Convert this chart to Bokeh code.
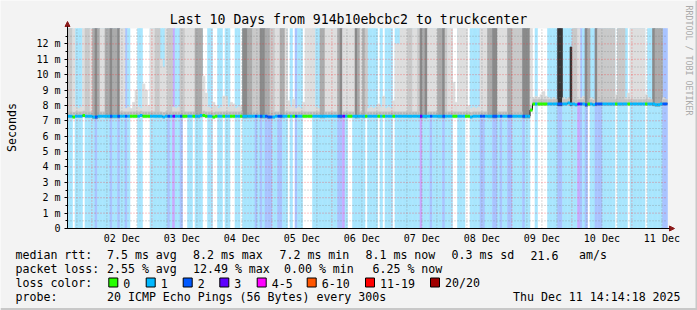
import math
from datetime import datetime, timedelta
from bokeh.plotting import figure
from bokeh.core.properties import value
from bokeh.models import (FixedTicker, DatetimeTickFormatter, CustomJSTickFormatter,
                          Range1d, Arrow, NormalHead)
from bokeh.embed import file_html
from bokeh.resources import INLINE

# ---------------- data ----------------
END_TIME = datetime(2025, 12, 11, 14, 14, 18)
SPAN_DAYS = 10
Y_MAX = 13.0   # ms

# loss category per hourly bin (0 = none, 1 = 1/20, 2 = 2/20, 3 = 3/20)
loss_codes = ("1101110111" "1211111211" "2112100011" "0001111111" "2131120011"
              "0111001100" "1101100110" "1111121212" "2211221101" "0211000011"
              "1111111122" "3100111110" "1111010111" "0111111111" "1311121111"
              "2111001110" "0111122111" "2212112211" "1121100100" "0011112211"
              "1111321201" "1222111110" "1111011111" "1011111122")

# smoke darkness at the top of each bin (0 = low smoke only, 1 light .. 5 very dark)
smoke_shade = ("2210001221" "3431133433" "4110000100" "1101122111" "2200022111"
               "1333110000" "0011000000" "4433222443" "3221133100" "0000011110"
               "0331111134" "1111143132" "0000001000" "0111112211" "2434111133"
               "4211101111" "0000011133" "4411113322" "2244410000" "0000005500"
               "0522100430" "0422222220" "2220011111" "1000433300")

# top of the smoke per bin (ms)
smoke_top = [
    13, 13, 13, 7.9, 7.8, 7.9, 13, 13, 13, 13,
    13, 13, 13, 13, 13, 13, 13, 13, 13, 13,
    13, 13, 13, 7.8, 7.9, 7.8, 8.2, 9.0, 7.9, 7.8,
    9.4, 9.0, 8.0, 13, 13, 13, 13, 11.0, 10.5, 13,
    13, 13, 7.9, 7.8, 7.9, 13, 13, 13, 13, 13,
    13, 13, 13, 13, 9.9, 8.8, 7.9, 7.8, 8.2, 8.0,
    7.8, 7.9, 8.6, 8.6, 7.9, 8.2, 8.1, 7.8, 7.9, 8.0,
    13, 13, 13, 13, 13, 13, 13, 13, 13, 13,
    13, 13, 13, 13, 13, 13, 13, 13, 8.3, 7.9,
    8.4, 7.8, 7.9, 7.8, 8.2, 13, 13, 13, 13, 7.9,
    7.8, 13, 13, 13, 13, 13, 13, 13, 13, 13,
    13, 13, 13, 13, 13, 13, 13, 13, 13, 13,
    7.8, 7.9, 7.8, 7.9, 8.1, 7.9, 8.6, 7.8, 7.9, 7.8,
    8.3, 12.0, 12.0, 13, 13, 13, 13, 13, 13, 13,
    13, 13, 13, 13, 13, 13, 13, 13, 13, 13,
    13, 13, 13, 13, 9.5, 8.2, 13, 13, 13, 13,
    8.0, 7.8, 7.9, 7.8, 7.9, 13, 13, 13, 13, 13,
    13, 13, 13, 13, 13, 13, 13, 13, 13, 13,
    13, 13, 13, 13, 13, 13, 8.5, 8.6, 8.5, 8.7,
    8.9, 8.6, 8.5, 8.4, 8.5, 8.4, 13, 13, 8.5, 8.4,
    8.5, 11.8, 13, 13, 13, 8.5, 8.6, 13, 13, 8.5,
    8.4, 13, 13, 13, 13, 13, 13, 13, 13, 8.7,
    13, 13, 13, 8.5, 8.8, 13, 13, 13, 13, 13,
    13, 8.7, 8.5, 8.4, 13, 13, 13, 13, 8.5, 8.4,
]

# median rtt per bin (ms)
median_ms = [
    7.30, 7.30, 7.25, 7.30, 7.30, 7.30, 7.35, 7.30, 7.30, 7.30,
    7.25, 7.25, 7.30, 7.30, 7.30, 7.30, 7.30, 7.30, 7.30, 7.30,
    7.30, 7.30, 7.30, 7.30, 7.30, 7.30, 7.30, 7.30, 7.30, 7.35,
    7.30, 7.30, 7.30, 7.30, 7.30, 7.30, 7.30, 7.30, 7.25, 7.30,
    7.30, 7.30, 7.30, 7.30, 7.30, 7.30, 7.30, 7.30, 7.30, 7.30,
    7.30, 7.30, 7.30, 7.35, 7.35, 7.30, 7.30, 7.30, 7.25, 7.30,
    7.30, 7.30, 7.30, 7.30, 7.30, 7.30, 7.30, 7.30, 7.30, 7.30,
    7.30, 7.30, 7.30, 7.30, 7.30, 7.30, 7.30, 7.30, 7.30, 7.30,
    7.25, 7.25, 7.25, 7.30, 7.30, 7.30, 7.30, 7.30, 7.30, 7.30,
    7.30, 7.30, 7.30, 7.30, 7.30, 7.30, 7.30, 7.30, 7.30, 7.30,
    7.30, 7.30, 7.30, 7.30, 7.30, 7.30, 7.30, 7.30, 7.30, 7.30,
    7.30, 7.30, 7.30, 7.30, 7.30, 7.30, 7.30, 7.30, 7.30, 7.30,
    7.30, 7.30, 7.30, 7.30, 7.30, 7.30, 7.30, 7.30, 7.30, 7.30,
    7.30, 7.30, 7.30, 7.30, 7.30, 7.30, 7.30, 7.30, 7.30, 7.30,
    7.30, 7.30, 7.30, 7.30, 7.30, 7.30, 7.30, 7.30, 7.30, 7.30,
    7.30, 7.30, 7.30, 7.30, 7.30, 7.30, 7.30, 7.30, 7.30, 7.30,
    7.30, 7.25, 7.30, 7.30, 7.30, 7.30, 7.30, 7.30, 7.30, 7.30,
    7.30, 7.30, 7.30, 7.30, 7.30, 7.30, 7.30, 7.30, 7.30, 7.30,
    7.30, 7.30, 7.30, 7.30, 7.30, 7.70, 8.10, 8.10, 8.10, 8.10,
    8.10, 8.10, 8.10, 8.10, 8.10, 8.10, 8.10, 8.10, 8.10, 8.10,
    8.15, 8.10, 8.10, 8.05, 8.10, 8.10, 8.10, 8.05, 8.10, 8.10,
    8.05, 8.10, 8.10, 8.10, 8.10, 8.10, 8.10, 8.10, 8.10, 8.10,
    8.10, 8.10, 8.10, 8.10, 8.10, 8.10, 8.10, 8.10, 8.10, 8.10,
    8.10, 8.10, 8.10, 8.10, 8.10, 8.05, 8.05, 8.10, 8.10, 8.10,
]

stats_rtt = ["median rtt:", "7.5 ms avg", "8.2 ms max", "7.2 ms min", "8.1 ms now", "0.3 ms sd", "21.6", "am/s"]
stats_loss = ["packet loss:", "2.55 % avg", "12.49 % max", "0.00 % min", "6.25 % now"]
loss_legend_names = ["0", "1", "2", "3", "4-5", "6-10", "11-19", "20/20"]
loss_legend_colors = ["#26ff00", "#00b8ff", "#0059ff", "#5e00ff", "#ff00ff", "#ff5500", "#ff0000", "#a10000"]
probe_label = "probe:"
probe_text = "20 ICMP Echo Pings (56 Bytes) every 300s"
stamp_text = "Thu Dec 11 14:14:18 2025"
title_text = "Last 10 Days from 914b10ebcbc2 to truckcenter"
credit_text = "RRDTOOL / TOBI OETIKER"
y_title = "Seconds"

# ---------------- styling / geometry ----------------
LINE_COLORS = {0: "#26ff00", 1: "#00b8ff", 2: "#0059ff", 3: "#5e00ff"}
BG_COLORS = {1: "#a9e6fe", 2: "#a9c4ff", 3: "#c9a9fe"}
SHADE_COLORS = ["#dcdcdc", "#dedede", "#c9c9c9", "#ababab", "#8a8a8a", "#363636"]
MONO = "DejaVu Sans Mono"
CANVAS = "#f3f3f3"
W, H = 697, 310
GL, GW, GT, GH = 67, 600, 28, 200      # graph area in canvas pixels


def ms_of(dt):
    return (dt - datetime(1970, 1, 1)).total_seconds() * 1000.0


start_dt = END_TIME - timedelta(days=SPAN_DAYS)
start_ms, end_ms = ms_of(start_dt), ms_of(END_TIME)
HOUR_MS = 3600 * 1000.0
KX = (end_ms - start_ms) / GW       # data per pixel
KY = Y_MAX / GH
x_lo = start_ms - GL * KX
y_hi = Y_MAX + GT * KY


def dx(px):
    return x_lo + px * KX


def dy(py):
    return y_hi - py * KY


n = len(loss_codes)
left = [start_ms + i * HOUR_MS for i in range(n)]
right = [start_ms + (i + 1) * HOUR_MS for i in range(n)]
codes = [int(c) for c in loss_codes]
shades = [int(c) for c in smoke_shade]

p = figure(width=W, height=H, x_axis_type="datetime",
           x_range=Range1d(x_lo, x_lo + W * KX), y_range=Range1d(y_hi - H * KY, y_hi),
           min_border=0, output_backend="svg", toolbar_location=None,
           background_fill_color=CANVAS, border_fill_color=CANVAS)
p.outline_line_color = None
p.title.visible = False
p.xgrid.visible = False
p.ygrid.visible = False

# graph canvas
p.quad(left=[start_ms], right=[end_ms], bottom=[0], top=[Y_MAX], fill_color="white", line_color=None)

# loss background bars
bg = [i for i in range(n) if codes[i] > 0]
p.quad(left=[left[i] for i in bg], right=[right[i] for i in bg],
       bottom=[0] * len(bg), top=[Y_MAX] * len(bg),
       fill_color=[BG_COLORS[codes[i]] for i in bg],
       line_color=[BG_COLORS[codes[i]] for i in bg], line_width=0.6)

# smoke
p.quad(left=left, right=right,
       bottom=[m - 0.12 for m in median_ms], top=smoke_top,
       fill_color=[SHADE_COLORS[s] for s in shades],
       line_color=[SHADE_COLORS[s] for s in shades], line_width=0.6)
inner = [i for i in range(n) if shades[i] <= 2]
p.quad(left=[left[i] for i in inner], right=[right[i] for i in inner],
       bottom=[median_ms[i] for i in inner], top=[median_ms[i] + 0.3 for i in inner],
       fill_color="#c2c2c2", line_color=None)

# grid (drawn over the smoke, as rrdtool does)
mid_ticks, six_ticks = [], []
t = datetime(start_dt.year, start_dt.month, start_dt.day) + timedelta(days=1)
while t < END_TIME:
    mid_ticks.append(ms_of(t))
    t += timedelta(days=1)
t = datetime(start_dt.year, start_dt.month, start_dt.day, 18)
while t < END_TIME:
    if t.hour != 0:
        six_ticks.append(ms_of(t))
    t += timedelta(hours=6)
noon_ticks = [m + 12 * HOUR_MS for m in mid_ticks]
y_major = list(range(1, 13))
y_minor = [k + 0.5 for k in range(13)]

p.segment(x0=[start_ms] * len(y_minor), x1=[end_ms] * len(y_minor), y0=y_minor, y1=y_minor,
          line_color="#808080", line_alpha=0.6, line_dash="1 2", line_width=1)
p.segment(x0=six_ticks, x1=six_ticks, y0=[0] * len(six_ticks), y1=[Y_MAX] * len(six_ticks),
          line_color="#808080", line_alpha=0.6, line_dash="1 2", line_width=1)
p.segment(x0=[start_ms] * len(y_major), x1=[end_ms] * len(y_major), y0=y_major, y1=y_major,
          line_color="#ff2020", line_alpha=0.5, line_dash="1 2", line_width=1)
p.segment(x0=mid_ticks, x1=mid_ticks, y0=[0] * len(mid_ticks), y1=[Y_MAX] * len(mid_ticks),
          line_color="#ff2020", line_alpha=0.5, line_dash="1 2", line_width=1)

# median line coloured by loss
p.step(x=left + [end_ms], y=median_ms + [median_ms[-1]], mode="after",
       line_color="#202020", line_width=1)
p.segment(x0=left, y0=median_ms, x1=right, y1=median_ms,
          line_color=[LINE_COLORS[c] for c in codes], line_width=3)

# axes, placed on the graph edges
p.xaxis.fixed_location = 0
p.xaxis.bounds = (start_ms, end_ms)
p.xaxis.ticker = FixedTicker(ticks=noon_ticks, minor_ticks=[])
p.xaxis.formatter = DatetimeTickFormatter(days="%d %b", hours="%d %b", months="%d %b",
                                          hourmin="%d %b", minutes="%d %b", years="%d %b")
p.xaxis.major_tick_line_color = None
p.xaxis.minor_tick_line_color = None
p.xaxis.major_tick_out = 2
p.xaxis.major_label_standoff = 2
p.yaxis.fixed_location = start_ms
p.yaxis.bounds = (0, Y_MAX)
p.yaxis.ticker = FixedTicker(ticks=list(range(0, 13)), minor_ticks=y_minor)
p.yaxis.formatter = CustomJSTickFormatter(code="return tick == 0 ? '0' : tick + ' m'")
p.yaxis.major_tick_out = 3
p.yaxis.major_tick_in = 0
p.yaxis.minor_tick_out = 2
p.yaxis.minor_tick_in = 0
p.yaxis.major_label_standoff = 4
for ax in (p.xaxis, p.yaxis):
    ax.axis_line_color = "#000000"
    ax.major_label_text_font = MONO
    ax.major_label_text_font_size = "10px"
    ax.major_label_text_color = "#000000"

# axis arrows
p.add_layout(Arrow(end=NormalHead(size=5, fill_color="#8b1a1a", line_color="#8b1a1a"),
                   x_start=start_ms, y_start=0, x_end=start_ms, y_end=dy(21),
                   line_color="#000000", line_width=1))
p.add_layout(Arrow(end=NormalHead(size=5, fill_color="#8b1a1a", line_color="#8b1a1a"),
                   x_start=start_ms, y_start=0, x_end=dx(674), y_end=0,
                   line_color="#000000", line_width=1))

# texts
def texts(xs, ys, strs, size, align="left", color="#000000", angle=0.0):
    p.text(x=[dx(v) for v in xs], y=[dy(v) for v in ys], text=strs,
           text_font=value(MONO), text_font_size=value(size), text_align=align,
           text_baseline="middle", text_color=color, angle=angle)


texts([348], [19], [title_text], "13.2px", align="center")
texts([11], [127], [y_title], "11.6px", align="center", angle=math.pi / 2)
texts([688.5], [60], [credit_text], "8.3px", align="center", color="#aaaaaa", angle=-math.pi / 2)

tx, ty, ts = [], [], []
for xx, s in zip([15, 106.5, 192.5, 279, 365, 451, 530, 578.5], stats_rtt):
    tx.append(xx); ty.append(254.5); ts.append(s)
for xx, s in zip([15, 106.5, 192.5, 283.5, 372], stats_loss):
    tx.append(xx); ty.append(268.5); ts.append(s)
tx.append(15); ty.append(282.5); ts.append("loss color:")
sq_x = [108.3, 145.7, 182.7, 219.3, 256.7, 306.7, 365, 430]
for xx, name in zip(sq_x, loss_legend_names):
    tx.append(xx + 14.5); ty.append(282.5); ts.append(name)
for xx, s in zip([15, 106.5, 512.5], [probe_label, probe_text, stamp_text]):
    tx.append(xx); ty.append(296.5); ts.append(s)
texts(tx, ty, ts, "11.6px")

# loss colour swatches
p.quad(left=[dx(v) for v in sq_x], right=[dx(v + 9) for v in sq_x],
       top=[dy(277.5)] * len(sq_x), bottom=[dy(286.5)] * len(sq_x),
       fill_color=loss_legend_colors, line_color="#000000", line_width=1)

# image frame edge
p.quad(left=[dx(0)], right=[dx(W)], top=[dy(307.5)], bottom=[dy(H)], fill_color="#c8c8c8", line_color=None)
p.quad(left=[dx(W - 2)], right=[dx(W)], top=[dy(0)], bottom=[dy(H)], fill_color="#c8c8c8", line_color=None)

open("out.html", "w").write(file_html(p, INLINE))
